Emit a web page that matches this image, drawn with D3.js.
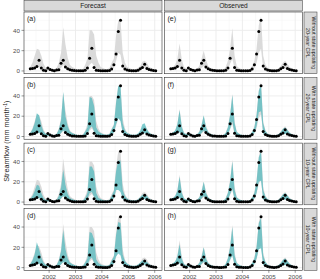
<!DOCTYPE html>
<html><head><meta charset="utf-8">
<script src="https://cdn.jsdelivr.net/npm/d3@7"></script>
<style>body{margin:0;background:#fff}svg{display:block;font-family:"Liberation Sans",Arial,sans-serif}</style>
</head><body><svg id="c" width="320" height="279"></svg>
<script>
// ---------- data ----------
const months = ["2001-04","2001-05","2001-06","2001-07","2001-08","2001-09","2001-10","2001-11","2001-12",
"2002-01","2002-02","2002-03","2002-04","2002-05","2002-06","2002-07","2002-08","2002-09","2002-10","2002-11","2002-12",
"2003-01","2003-02","2003-03","2003-04","2003-05","2003-06","2003-07","2003-08","2003-09","2003-10","2003-11","2003-12",
"2004-01","2004-02","2004-03","2004-04","2004-05","2004-06","2004-07","2004-08","2004-09","2004-10","2004-11","2004-12",
"2005-01","2005-02","2005-03","2005-04","2005-05","2005-06","2005-07","2005-08","2005-09","2005-10","2005-11","2005-12",
"2006-01"];
const observed = [2.2,2.5,3,4.5,10.5,2.8,0.8,0.3,3, 1.5,0.6,0.3,1,1.2,7.6,10.5,4,2.2,1.2,0.6,0.4,
0.3,0.2,0.2,0.3,0.6,3,12.5,22.3,3.3,0.8,0.4,0.3, 0.2,0.2,0.2,0.5,2,6,16.7,39,50,5,2,1,
0.5,0.3,0.2,0.3,0.8,2.2,3.5,6.6,2.5,1.5,1,0.5, 0.3];
const columns = ["Forecast","Observed"];
const rowLabels = [["Without state updating","20-year CPL"],["With state updating","20-year CPL"],
                   ["Without state updating","10-year CPL"],["With state updating","10-year CPL"]];
const panelTags = [["(a)","(b)","(c)","(d)"],["(e)","(f)","(g)","(h)"]];
const yTicks = [0,20,40];
const xTickYears = [2002,2003,2004,2005,2006];

// grey ensemble bands (per column)
const greyFcHi = [4,8,15,22,21,15,7,3,4,3,2,1.5, 3,8,18,43,26,13,6,4,3,2,1.5,1.5, 2,6,12,40,40,36,15,8,4,3,2,2, 3,8,12,35,50,50,18,8,4,3,2,2, 2,3,5,9,10,8,4,3,2,1.5];
const greyFcLo = [1,1.5,2,3,4,2,0.5,0.2,0.5,0.3,0.2,0.1, 0.3,1,3,6,3,1.5,0.8,0.4,0.3,0.2,0.1,0.1, 0.2,0.5,2,6,8,5,1,0.5,0.3,0.2,0.1,0.1, 0.3,1,3,10,18,16,3,1,0.5,0.3,0.2,0.1, 0.2,0.5,1.5,2.5,3,2,1,0.5,0.3,0.2];
const greyObHi = [3,4,6,12,27,11,4,2.5,4,3,2,1.5, 2.5,5,12,20,11,5,3,2,1.5,1.2,1,1, 1.5,4,10,22,42,15,5,3,2,1.5,1.2,1.2, 2,5,10,22,45,54,15,6,3,2,1.5,1.2, 1.5,2.5,5,8,10,7,4,2.5,1.5,1.2];
const greyObLo = [1,1.5,2,2.5,4,2,0.5,0.3,0.8,0.4,0.2,0.1, 0.3,0.8,3,5,2,1,0.5,0.3,0.2,0.1,0.1,0.1, 0.2,0.5,2,7,12,2,0.8,0.4,0.2,0.1,0.1,0.1, 0.3,1,3,8,18,22,2,0.8,0.4,0.2,0.1,0.1, 0.2,0.5,1.2,2,2.5,1.5,0.8,0.4,0.2,0.1];

// teal bands (per panel)
const tealBHi = [3.5,7,13,23,21,11,5,2.5,3.5,2.5,1.8,1.3, 2.5,7,16,44,20,10,5,3.5,2.5,1.8,1.3,1.3, 1.8,5,9,39,38,30,9,5,3.5,2.5,1.8,1.8, 2.5,7,11,33,50,49,13,6,3.5,2.5,1.8,1.8, 1.8,3,6,12,13,7,4,2.5,1.8,1.3];
const tealBLo = [1.5,2,2.5,3,4,2,0.6,0.3,0.8,0.4,0.2,0.1, 0.4,1,3.5,6,3,1.5,0.8,0.4,0.3,0.2,0.1,0.1, 0.2,0.6,2.5,8,10,5,1,0.5,0.3,0.2,0.1,0.1, 0.4,1.5,4,12,18,15,3,1,0.5,0.3,0.2,0.1, 0.2,0.6,2,3,3.5,2,1,0.5,0.3,0.2];
const tealCHi = [3,6,11,17,16,9,4,2,3,2,1.5,1, 2,6,14,32,17,8,4,3,2,1.5,1,1, 1.5,4,9,35,35,30,9,4,3,2,1.5,1.5, 2,6,11,30,41,41,12,6,3.5,2,1.5,1.5, 1.5,2.5,5,7,8,6,3.5,2,1.5,1];
const tealCLo = [1,1.5,2,3,4,2,0.6,0.3,0.8,0.4,0.2,0.1, 0.4,1,3.5,6,3,1.5,0.8,0.4,0.3,0.2,0.1,0.1, 0.2,0.6,3,9,10,5,1,0.5,0.3,0.2,0.1,0.1, 0.4,1.5,4,12,12,10,3,1,0.5,0.3,0.2,0.1, 0.2,0.6,1.5,2.5,3,2,1,0.5,0.3,0.2];
const tealDHi = [3.5,7,13,25,18,10,5,2.5,3.5,2.5,1.8,1.3, 2.5,7,16,37,18,9,5,3.5,2.5,1.8,1.3,1.3, 1.8,5,9,35,34,28,8,4.5,3,2.2,1.8,1.8, 2.5,7,11,32,45,44,13,6.5,4,2.5,1.8,1.8, 1.8,3,5,7,7,5.5,3.5,2.2,1.6,1.2];
const tealDLo = [1.2,1.6,2,3,4,2,0.6,0.3,0.8,0.4,0.2,0.1, 0.4,1,3,5.5,3,1.5,0.8,0.4,0.3,0.2,0.1,0.1, 0.2,0.6,2.5,8,10,5,1,0.5,0.3,0.2,0.1,0.1, 0.4,1.5,4,11,14,12,3,1,0.5,0.3,0.2,0.1, 0.2,0.6,1.5,2.5,3,2,1,0.5,0.3,0.2];
const tealFHi = [3,4,6,12,26,9,3.5,2.2,3.5,2.5,1.8,1.3, 2.2,4.5,11,21,9,4.5,2.8,1.8,1.4,1.1,0.9,0.9, 1.4,3.5,9,21,41,13,4.5,2.8,1.8,1.4,1.1,1.1, 1.8,4.5,9,21,45,51,13,5.5,2.8,1.8,1.4,1.1, 1.4,2.3,4.5,7.5,9,6.5,3.8,2.3,1.4,1.1];
const tealFLo = [1.2,1.6,2.2,3,4.5,2.2,0.6,0.3,0.9,0.5,0.2,0.1, 0.4,1,3.5,6,2.5,1.2,0.6,0.3,0.2,0.1,0.1,0.1, 0.2,0.6,2.5,8,15,2.5,0.9,0.5,0.2,0.1,0.1,0.1, 0.4,1.2,3.5,10,24,25,2.5,0.9,0.5,0.2,0.1,0.1, 0.2,0.6,1.4,2.2,2.8,1.7,0.9,0.5,0.2,0.1];
const tealGHi = [3,4,6,11,25,9,3.5,2.2,3.5,2.5,1.8,1.3, 2.2,4.5,10,20,9,4.5,2.8,1.8,1.4,1.1,0.9,0.9, 1.4,3.5,9,20,40,12,4.5,2.8,1.8,1.4,1.1,1.1, 1.8,4.5,9,20,44,50,12,5.5,2.8,1.8,1.4,1.1, 1.4,2.3,4.5,7.5,9,6.5,3.8,2.3,1.4,1.1];
const tealGLo = [1.2,1.6,2.2,3,4.5,2.2,0.6,0.3,0.9,0.5,0.2,0.1, 0.4,1,3.5,6,2.5,1.2,0.6,0.3,0.2,0.1,0.1,0.1, 0.2,0.6,2.5,8,13,2.5,0.9,0.5,0.2,0.1,0.1,0.1, 0.4,1.2,3.5,9,20,21,2.5,0.9,0.5,0.2,0.1,0.1, 0.2,0.6,1.4,2.2,2.8,1.7,0.9,0.5,0.2,0.1];
const tealHHi = [3,4,6,11,23,8.5,3.5,2.2,3.5,2.5,1.8,1.3, 2.2,4.5,10,20,8.5,4.5,2.8,1.8,1.4,1.1,0.9,0.9, 1.4,3.5,9,20,40,12,4.5,2.8,1.8,1.4,1.1,1.1, 1.8,4.5,9,20,44,49,12,5.5,2.8,1.8,1.4,1.1, 1.4,2.3,4.5,7.5,9,6.5,3.8,2.3,1.4,1.1];
const tealHLo = [1.2,1.6,2.2,3,4.5,2.2,0.6,0.3,0.9,0.5,0.2,0.1, 0.4,1,3.5,6,2.5,1.2,0.6,0.3,0.2,0.1,0.1,0.1, 0.2,0.6,2.5,8,12,2.5,0.9,0.5,0.2,0.1,0.1,0.1, 0.4,1.2,3.5,9,18,19,2.5,0.9,0.5,0.2,0.1,0.1, 0.2,0.6,1.4,2.2,2.8,1.7,0.9,0.5,0.2,0.1];

const greyBands = [[greyFcLo,greyFcHi],[greyObLo,greyObHi]];
const tealBands = [[null,[tealBLo,tealBHi],[tealCLo,tealCHi],[tealDLo,tealDHi]],
                   [null,[tealFLo,tealFHi],[tealGLo,tealGHi],[tealHLo,tealHHi]]];

// ---------- layout ----------
const svg = d3.select("#c");
const panelW = 138, panelH = 61.7, rowStep = 65.55;
const colX = [24, 164.5], topY = 12;
const dates = months.map(m => new Date(m + "-15T00:00:00"));
const t0 = +dates[0], t1 = +dates[dates.length-1], span = t1 - t0;
const x = d3.scaleTime().domain([new Date(t0 - 0.05*span), new Date(t1 + 0.05*span)]).range([0, panelW]);
const y = d3.scaleLinear().domain([-2.7, 58.1]).range([panelH, 0]);
const majorX = xTickYears.map(yr => new Date(yr + "-01-01T00:00:00"));
const minorX = [2001,2002,2003,2004,2005].map(yr => new Date(yr + "-07-02T12:00:00"));
const minorY = [10,30,50];

const textCol = "#4d4d4d";
const area = d3.area().x((d,i) => x(dates[i])).y0(d => y(d[0])).y1(d => y(d[1]));

columns.forEach((colName, c) => {
  // top strip
  svg.append("rect").attr("x", colX[c]).attr("y", 0.5).attr("width", panelW).attr("height", 10.5)
    .attr("fill", "#d9d9d9").attr("stroke", "#333").attr("stroke-width", 0.5);
  svg.append("text").attr("x", colX[c] + panelW/2).attr("y", 8.2).attr("text-anchor","middle")
    .attr("font-size", 6.6).attr("fill", "#1a1a1a").text(colName);

  for (let r = 0; r < 4; r++) {
    const g = svg.append("g").attr("transform", `translate(${colX[c]},${topY + r*rowStep})`);
    g.append("rect").attr("width", panelW).attr("height", panelH).attr("fill", "#fff");
    // grid
    g.selectAll(".mnx").data(minorX).enter().append("line")
      .attr("x1", d=>x(d)).attr("x2", d=>x(d)).attr("y1",0).attr("y2",panelH)
      .attr("stroke","#f2f2f2").attr("stroke-width",0.5);
    g.selectAll(".mny").data(minorY).enter().append("line")
      .attr("y1", d=>y(d)).attr("y2", d=>y(d)).attr("x1",0).attr("x2",panelW)
      .attr("stroke","#f2f2f2").attr("stroke-width",0.5);
    g.selectAll(".mjx").data(majorX).enter().append("line")
      .attr("x1", d=>x(d)).attr("x2", d=>x(d)).attr("y1",0).attr("y2",panelH)
      .attr("stroke","#ebebeb").attr("stroke-width",0.9);
    g.selectAll(".mjy").data(yTicks).enter().append("line")
      .attr("y1", d=>y(d)).attr("y2", d=>y(d)).attr("x1",0).attr("x2",panelW)
      .attr("stroke","#ebebeb").attr("stroke-width",0.9);
    // grey band
    const gb = greyBands[c];
    g.append("path").datum(gb[0].map((lo,i)=>[lo, gb[1][i]])).attr("d", area)
      .attr("fill", "#d6d6d6").attr("fill-opacity", 0.9);
    // teal band
    const tb = tealBands[c][r];
    if (tb) {
      g.append("path").datum(tb[0].map((lo,i)=>[lo, tb[1][i]])).attr("d", area)
        .attr("fill", "#4fb8bc").attr("fill-opacity", 0.72);
    }
    // points
    g.selectAll(".pt").data(observed).enter().append("circle")
      .attr("cx", (d,i)=>x(dates[i])).attr("cy", d=>y(d)).attr("r", 1.5).attr("fill", "#000");
    // tag
    g.append("text").attr("x", 3).attr("y", 9).attr("font-size", 7).attr("fill","#1a1a1a").text(panelTags[c][r]);
    // border
    g.append("rect").attr("width", panelW).attr("height", panelH).attr("fill","none")
      .attr("stroke","#333").attr("stroke-width",0.6);

    // y axis (left column only)
    if (c === 0) {
      const ya = g.append("g");
      yTicks.forEach(v => {
        ya.append("line").attr("x1",-2.5).attr("x2",0).attr("y1",y(v)).attr("y2",y(v))
          .attr("stroke","#333").attr("stroke-width",0.5);
        ya.append("text").attr("x",-4).attr("y",y(v)+2.2).attr("text-anchor","end")
          .attr("font-size",6.2).attr("fill",textCol).text(v);
      });
    }
    // x axis (bottom row only)
    if (r === 3) {
      majorX.forEach((d,k) => {
        g.append("line").attr("x1",x(d)).attr("x2",x(d)).attr("y1",panelH).attr("y2",panelH+2.5)
          .attr("stroke","#333").attr("stroke-width",0.5);
        g.append("text").attr("x",x(d)).attr("y",panelH+8.3).attr("text-anchor","middle")
          .attr("font-size",6.2).attr("fill",textCol).text(xTickYears[k]);
      });
    }
    // right strip
    if (c === 1) {
      const sx = colX[1] + panelW + 1.5, sy = topY + r*rowStep;
      svg.append("rect").attr("x", sx).attr("y", sy).attr("width", 13).attr("height", panelH)
        .attr("fill", "#d9d9d9").attr("stroke", "#333").attr("stroke-width", 0.5);
      const st = svg.append("text").attr("transform", `translate(${sx+6.5},${sy+panelH/2}) rotate(90)`)
        .attr("text-anchor","middle").attr("font-size",5.3).attr("fill","#1a1a1a");
      st.append("tspan").attr("x",0).attr("y",-1.2).text(rowLabels[r][0]);
      st.append("tspan").attr("x",0).attr("y",4.6).text(rowLabels[r][1]);
    }
  }
});

// y axis title
const yt = svg.append("text").attr("transform", `translate(9,${topY + (3*rowStep+panelH)/2}) rotate(-90)`)
  .attr("text-anchor","middle").attr("font-size",7.2).attr("fill","#1a1a1a");
yt.append("tspan").text("Streamflow (mm month");
yt.append("tspan").attr("dy",-2.5).attr("font-size",5).text("-1");
yt.append("tspan").attr("dy",2.5).text(")");
</script></body></html>
